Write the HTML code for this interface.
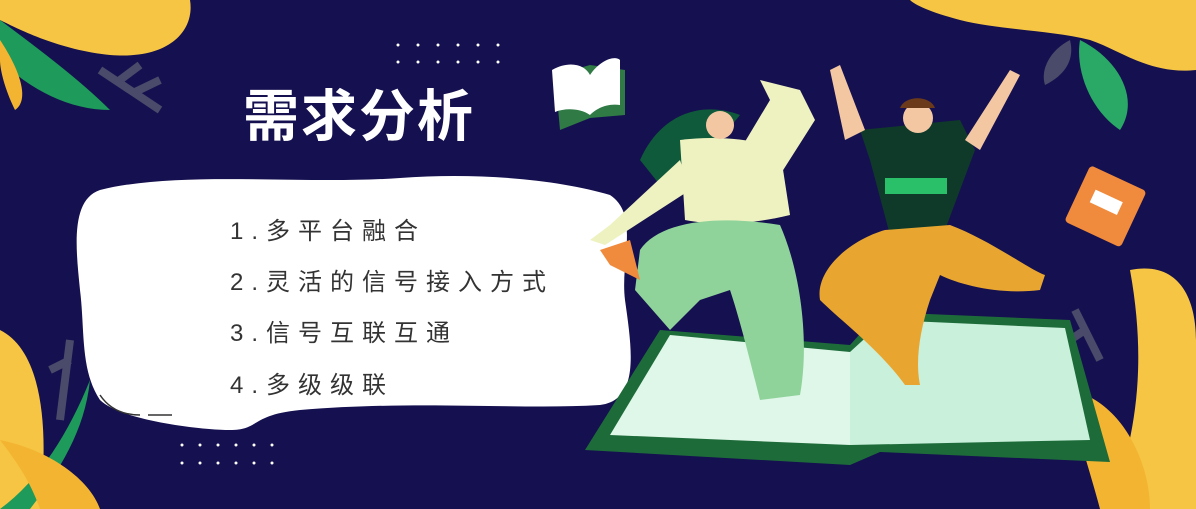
<!DOCTYPE html>
<html><head><meta charset="utf-8"><style>
html,body{margin:0;padding:0;width:1196px;height:509px;overflow:hidden;background:#15104f}
#s{position:absolute;left:0;top:0}
.t{position:absolute;font-family:"Liberation Sans","Noto Sans CJK SC",sans-serif}
#title{left:243px;top:72px;font-size:56px;font-weight:bold;color:#fff;letter-spacing:2px}
.li{left:230px;font-size:24px;color:#333;letter-spacing:8px}
</style></head><body>
<svg id="s" width="1196" height="509">
<rect width="1196" height="509" fill="#15104f"/>
<!-- top-left leaves -->
<g>
<path d="M0,0 L190,0 C195,30 170,60 110,55 C60,50 20,30 0,20Z" fill="#f6c544"/>
<path d="M0,20 C40,50 80,80 110,110 C70,110 30,90 0,60Z" fill="#1e9a5a"/>
<path d="M0,40 C20,70 30,100 15,110 C5,90 0,70 0,60Z" fill="#f3b531"/>
<path d="M100,70 L160,110 M120,80 L140,65 M135,92 L160,80" stroke="#4a4a6a" stroke-width="8"/>
</g>
<!-- top-right leaves -->
<g>
<path d="M910,0 L1196,0 L1196,70 C1150,75 1120,50 1090,40 C1050,30 1000,30 960,20 C930,12 915,5 910,0Z" fill="#f6c544"/>
<path d="M1080,40 C1120,60 1140,100 1120,130 C1090,110 1075,70 1080,40Z" fill="#29a866"/>
<path d="M1070,40 C1050,50 1040,70 1045,85 C1065,75 1075,60 1070,40Z" fill="#4a4a6a"/>
</g>
<!-- right notebook -->
<g transform="rotate(25 1105 205)">
<rect x="1075" y="175" width="62" height="62" rx="4" fill="#f08a3c"/>
<rect x="1090" y="195" width="30" height="14" fill="#fff"/>
</g>
<!-- bottom-right leaves -->
<g>
<path d="M1130,270 C1180,260 1196,300 1196,340 L1196,509 L1110,509 C1130,450 1150,380 1130,270Z" fill="#f6c544"/>
<path d="M1070,390 C1120,400 1150,460 1150,509 L1100,509 C1090,470 1075,430 1070,390Z" fill="#f3b531"/>
<path d="M1075,310 L1100,360 M1085,330 L1070,340" stroke="#4a4a6a" stroke-width="8"/>
</g>
<!-- bottom-left leaves -->
<g>
<path d="M0,330 C40,350 50,420 40,509 L0,509Z" fill="#f6c544"/>
<path d="M90,380 C70,430 40,480 0,509 L30,509 C60,470 85,430 90,380Z" fill="#1e9a5a"/>
<path d="M0,440 C50,450 90,480 100,509 L40,509 C30,480 15,460 0,440Z" fill="#f3b531"/>
<path d="M70,340 L60,420 M50,370 L70,360" stroke="#4a4a6a" stroke-width="8"/>
</g>
<!-- dots -->
<g fill="#fff">
<circle cx="398" cy="45" r="1.5"/><circle cx="418" cy="45" r="1.5"/><circle cx="438" cy="45" r="1.5"/><circle cx="458" cy="45" r="1.5"/><circle cx="478" cy="45" r="1.5"/><circle cx="498" cy="45" r="1.5"/>
<circle cx="398" cy="62" r="1.5"/><circle cx="418" cy="62" r="1.5"/><circle cx="438" cy="62" r="1.5"/><circle cx="458" cy="62" r="1.5"/><circle cx="478" cy="62" r="1.5"/><circle cx="498" cy="62" r="1.5"/>
<circle cx="182" cy="445" r="1.5"/><circle cx="200" cy="445" r="1.5"/><circle cx="218" cy="445" r="1.5"/><circle cx="236" cy="445" r="1.5"/><circle cx="254" cy="445" r="1.5"/><circle cx="272" cy="445" r="1.5"/>
<circle cx="182" cy="463" r="1.5"/><circle cx="200" cy="463" r="1.5"/><circle cx="218" cy="463" r="1.5"/><circle cx="236" cy="463" r="1.5"/><circle cx="254" cy="463" r="1.5"/><circle cx="272" cy="463" r="1.5"/>
</g>
<!-- small book top -->
<g>
<path d="M555,75 L590,65 L625,70 L625,115 L590,118 L560,130Z" fill="#2f7a45"/>
<path d="M552,70 C570,60 585,65 590,75 C600,60 615,55 620,60 L620,105 C605,103 595,110 590,115 C580,108 565,108 555,112Z" fill="#fff"/>
</g>
<!-- white speech blob -->
<path d="M100,190 C180,170 300,185 400,178 C480,172 560,180 610,195 C640,215 620,260 625,300 C632,350 640,400 600,405 C520,410 420,400 300,410 C250,415 260,430 230,430 C200,430 120,420 100,400 C80,370 85,330 80,290 C76,250 70,200 100,190Z" fill="#fff"/>
<path d="M100,395 C110,410 125,415 140,415 M148,415 L172,415" stroke="#333" stroke-width="1.5" fill="none"/>
<!-- big open book -->
<g>
<path d="M585,450 L660,330 L850,345 L880,312 L1070,320 L1110,462 L880,452 L850,465Z" fill="#1e6b3a"/>
<path d="M610,435 L670,335 L850,352 L850,445Z" fill="#dff7e8"/>
<path d="M850,352 L885,320 L1065,328 L1090,440 L850,445Z" fill="#c9f0db"/>
</g>
<!-- woman -->
<g>
<path d="M640,160 C660,115 700,100 740,115 C720,140 690,170 660,185Z" fill="#0f5a3a"/>
<path d="M680,140 C720,135 760,140 780,150 L790,215 C750,225 710,225 685,220Z" fill="#eef2c0"/>
<path d="M740,150 L770,100 L760,80 L800,90 L815,120 L780,175Z" fill="#eef2c0"/>
<path d="M680,160 L610,225 L590,240 L605,245 L690,190Z" fill="#eef2c0"/>
<path d="M640,250 C660,220 720,215 780,225 C800,270 810,340 800,395 L760,400 C750,360 740,320 730,290 L700,300 L670,330 L635,290Z" fill="#8fd39b"/>
<path d="M600,250 L630,240 L640,280 L610,265Z" fill="#f08a3c"/>
<circle cx="720" cy="125" r="14" fill="#f4c7a3"/>
</g>
<!-- man -->
<g>
<path d="M860,130 L960,120 L975,150 L945,230 L890,235 L870,160Z" fill="#0f3a2a"/>
<rect x="885" y="178" width="62" height="16" fill="#2ac06a"/>
<path d="M845,140 L830,70 L840,65 L865,130Z" fill="#f4c7a3"/>
<path d="M965,140 L1010,70 L1020,75 L980,150Z" fill="#f4c7a3"/>
<circle cx="918" cy="118" r="15" fill="#f4c7a3"/>
<path d="M900,108 C905,95 930,95 935,108Z" fill="#6b3a1a"/>
<path d="M885,230 L950,225 C990,240 1030,270 1045,275 L1040,290 C1000,295 960,285 940,275 L930,300 C920,330 915,360 920,385 L905,385 C880,350 840,320 820,300 C815,270 850,240 885,230Z" fill="#e8a630"/>
</g>
</svg>
<div id="title" class="t">需求分析</div>
<div class="t li" style="top:211px">1.多平台融合</div>
<div class="t li" style="top:262px">2.灵活的信号接入方式</div>
<div class="t li" style="top:313px">3.信号互联互通</div>
<div class="t li" style="top:365px">4.多级级联</div>
</body></html>
